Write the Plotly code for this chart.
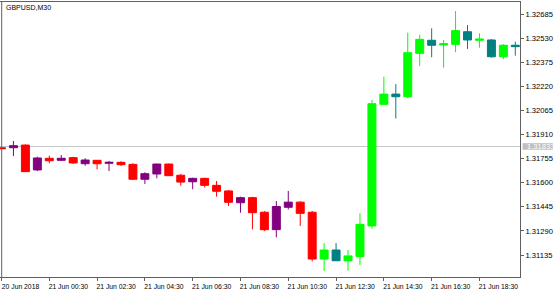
import pandas as pd
import plotly.graph_objects as go

symbol = "GBPUSD,M30"
times = pd.date_range("2018-06-20 22:30", periods=44, freq="30min")

opens = [1.31825, 1.31825, 1.31842, 1.31682, 1.31757, 1.31744, 1.31761, 1.31722, 1.31744, 1.31725,
         1.31731, 1.31718, 1.31622, 1.31656, 1.31720, 1.31648, 1.31606, 1.31628, 1.31583, 1.31547,
         1.31471, 1.31504, 1.31410, 1.31298, 1.31442, 1.31475, 1.31410, 1.31109, 1.31167, 1.31098,
         1.31125, 1.31322, 1.32104, 1.32170, 1.32153, 1.32432, 1.32516, 1.32486, 1.32490, 1.32571,
         1.32516, 1.32518, 1.32410, 1.32484]
highs = [1.31827, 1.31868, 1.31846, 1.31767, 1.31774, 1.31778, 1.31767, 1.31757, 1.31746, 1.31740,
         1.31738, 1.31725, 1.31667, 1.31722, 1.31722, 1.31656, 1.31632, 1.31632, 1.31611, 1.31553,
         1.31510, 1.31510, 1.31418, 1.31482, 1.31547, 1.31482, 1.31418, 1.31211, 1.31212, 1.31167,
         1.31403, 1.32132, 1.32282, 1.32234, 1.32565, 1.32552, 1.32593, 1.32518, 1.32704, 1.32614,
         1.32561, 1.32524, 1.32492, 1.32507]
lows = [1.31816, 1.31772, 1.31669, 1.31675, 1.31725, 1.31741, 1.31720, 1.31709, 1.31686, 1.31675,
        1.31707, 1.31617, 1.31592, 1.31628, 1.31643, 1.31581, 1.31558, 1.31570, 1.31510, 1.31450,
        1.31407, 1.31300, 1.31289, 1.31249, 1.31428, 1.31322, 1.31093, 1.31032, 1.31096, 1.31034,
        1.31071, 1.31304, 1.32103, 1.32013, 1.32143, 1.32351, 1.32407, 1.32340, 1.32439, 1.32460,
        1.32468, 1.32404, 1.32394, 1.32417]
closes = [1.31819, 1.31838, 1.31671, 1.31759, 1.31741, 1.31757, 1.31727, 1.31746, 1.31722, 1.31731,
          1.31716, 1.31622, 1.31658, 1.31720, 1.31645, 1.31604, 1.31628, 1.31583, 1.31545, 1.31474,
          1.31504, 1.31407, 1.31298, 1.31447, 1.31475, 1.31403, 1.31109, 1.31167, 1.31098, 1.31129,
          1.31332, 1.32108, 1.32170, 1.32153, 1.32436, 1.32522, 1.32484, 1.32494, 1.32578, 1.32518,
          1.32524, 1.32410, 1.32484, 1.32475]
upswing_start = 27  # first bar drawn with the up-trend colours

price_line = 1.31833
y_ticks = [1.31135, 1.31290, 1.31445, 1.31600, 1.31755, 1.31910, 1.32065, 1.32220, 1.32375, 1.32530, 1.32685]
x_tick_idx = [0, 4, 8, 12, 16, 20, 24, 28, 32, 36, 40]
x_tick_text = ["20 Jun 2018", "21 Jun 00:30", "21 Jun 02:30", "21 Jun 04:30", "21 Jun 06:30",
               "21 Jun 08:30", "21 Jun 10:30", "21 Jun 12:30", "21 Jun 14:30", "21 Jun 16:30",
               "21 Jun 18:30"]

FONT = "Liberation Sans, Arial, sans-serif"
FRAME = "#606060"

def seg(a, lo, hi):
    return list(a[lo:hi])

fig = go.Figure()
groups = [
    (0, upswing_start, "#800080", "#FF0000"),
    (upswing_start, len(times), "#00FF00", "#008080"),
]
for lo, hi, inc, dec in groups:
    fig.add_trace(go.Candlestick(
        x=seg(times, lo, hi), open=seg(opens, lo, hi), high=seg(highs, lo, hi),
        low=seg(lows, lo, hi), close=seg(closes, lo, hi),
        increasing=dict(line=dict(color=inc, width=1), fillcolor=inc),
        decreasing=dict(line=dict(color=dec, width=1), fillcolor=dec),
        whiskerwidth=0, hoverinfo="skip", showlegend=False,
    ))

y_min, y_max = 1.309935, 1.327622
x_start = times[0] - pd.Timedelta(minutes=3.77)
x_end = times[0] + pd.Timedelta(minutes=1301.8)

plot_w, plot_h = 520, 275

fig.add_shape(type="line", xref="paper", yref="y", x0=0, x1=1, y0=price_line, y1=price_line,
              line=dict(color="#C8C8C8", width=1), layer="below")
fig.add_shape(type="line", xref="paper", yref="paper", x0=1.7 / plot_w, x1=1.7 / plot_w, y0=0, y1=1,
              line=dict(color=FRAME, width=1), layer="above")
yp = (price_line - y_min) / (y_max - y_min)
fig.add_shape(type="rect", xref="paper", yref="paper",
              x0=1 + 2.5 / plot_w, x1=1 + 33 / plot_w,
              y0=yp - 3.3 / plot_h, y1=yp + 3.3 / plot_h,
              fillcolor="#C0C0C0", line=dict(width=0), layer="above")
fig.add_annotation(xref="paper", yref="paper", x=1 + 5 / plot_w, y=yp, text=f"{price_line:.5f}",
                   showarrow=False, xanchor="left", yanchor="middle",
                   font=dict(family=FONT, size=7.6, color="#FFFFFF"))
fig.add_annotation(xref="paper", yref="paper", x=4 / plot_w, y=1 - 5 / plot_h, text=symbol,
                   showarrow=False, xanchor="left", yanchor="middle",
                   font=dict(family=FONT, size=7, color="#000000"))

fig.update_layout(
    width=560, height=294,
    margin=dict(l=0, r=40, t=2, b=17),
    paper_bgcolor="white", plot_bgcolor="white",
    boxgap=1 / 3, boxgroupgap=0,
    showlegend=False,
    font=dict(family=FONT, color="#000000"),
    xaxis=dict(
        type="date", range=[x_start, x_end], rangeslider=dict(visible=False),
        tickvals=[times[i] for i in x_tick_idx], ticktext=x_tick_text,
        ticks="outside", ticklen=3, tickcolor=FRAME, showgrid=False, zeroline=False,
        showline=True, linecolor=FRAME, linewidth=1, mirror=True,
        ticklabelshift=19, tickfont=dict(family=FONT, size=6.8, color="#000000"),
    ),
    yaxis=dict(
        side="right", range=[y_min, y_max], tickvals=y_ticks, tickformat=".5f",
        ticks="outside", ticklen=3, tickcolor=FRAME, showgrid=False, zeroline=False,
        showline=True, linecolor=FRAME, linewidth=1,
        tickfont=dict(family=FONT, size=7.6, color="#000000"),
    ),
)

fig.write_html("out.html")
